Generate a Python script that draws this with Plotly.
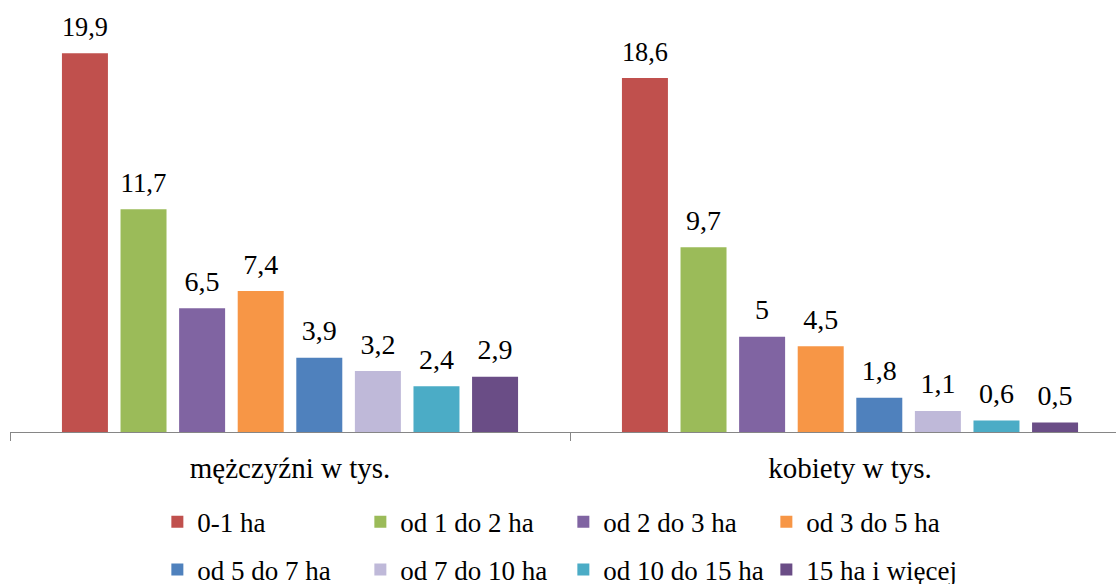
import plotly.graph_objects as go

categories = ["mężczyźni w tys.", "kobiety w tys."]
series_names = ["0-1 ha", "od 1 do 2 ha", "od 2 do 3 ha", "od 3 do 5 ha",
                "od 5 do 7 ha", "od 7 do 10 ha", "od 10 do 15 ha", "15 ha i więcej"]
men = [19.9, 11.7, 6.5, 7.4, 3.9, 3.2, 2.4, 2.9]
women = [18.6, 9.7, 5.0, 4.5, 1.8, 1.1, 0.6, 0.5]
colors = ["#C0504D", "#9BBB59", "#8064A2", "#F79646",
          "#4F81BD", "#BFB9D9", "#4BACC6", "#6A4D86"]

FONT = "Liberation Serif, Times New Roman, DejaVu Serif, serif"
LABEL_PAD = 0.45  # gap (in data units) between bar top and its value label


def fmt(v):
    return f"{v:g}".replace(".", ",")


fig = go.Figure()
for i, name in enumerate(series_names):
    vals = [men[i], women[i]]
    fig.add_trace(go.Bar(
        x=categories, y=vals, name=name, offsetgroup=str(i),
        marker=dict(color=colors[i], line=dict(width=0)),
        legend="legend" if i < 4 else "legend2",
        hoverinfo="x+y+name",
    ))
    # invisible carrier bar for the value label, sitting just above the bar
    fig.add_trace(go.Bar(
        x=categories, y=[LABEL_PAD] * 2, base=vals, offsetgroup=str(i),
        marker=dict(color="rgba(0,0,0,0)", line=dict(width=0)),
        text=[fmt(v) for v in vals], textposition="outside",
        textfont=dict(family=FONT, size=28, color="#000000"),
        cliponaxis=False, showlegend=False, hoverinfo="skip",
    ))

legend_common = dict(
    orientation="h", xref="container", yref="container",
    xanchor="left", yanchor="middle",
    font=dict(family=FONT, size=27, color="#000000"),
    entrywidth=158, entrywidthmode="pixels",
    bgcolor="rgba(0,0,0,0)", traceorder="normal",
)

fig.update_layout(
    width=1116, height=584,
    margin=dict(l=10, r=0, t=20, b=152, autoexpand=False),
    font=dict(family=FONT),
    paper_bgcolor="white", plot_bgcolor="white",
    barmode="group", bargap=0.163, bargroupgap=0.215,
    legend=dict(x=0.141, y=0.106, **legend_common),
    legend2=dict(x=0.141, y=0.024, **legend_common),
    xaxis=dict(
        type="category", range=[-0.5, 1.475], automargin=False,
        showline=True, linecolor="#868686", linewidth=1,
        ticks="outside", tickson="boundaries", ticklen=8,
        tickcolor="#868686", tickwidth=1,
        ticklabelstandoff=10,
        tickfont=dict(family=FONT, size=29, color="#000000"),
        showgrid=False, zeroline=False, fixedrange=True,
    ),
    yaxis=dict(range=[0, 21.64], visible=False, showgrid=False,
               zeroline=False, fixedrange=True, automargin=False),
    showlegend=True,
)

fig.write_html(
    "out.html",
    config={"displayModeBar": False, "staticPlot": False},
    post_script="document.body.style.margin='0';document.body.style.overflow='hidden';",
)
